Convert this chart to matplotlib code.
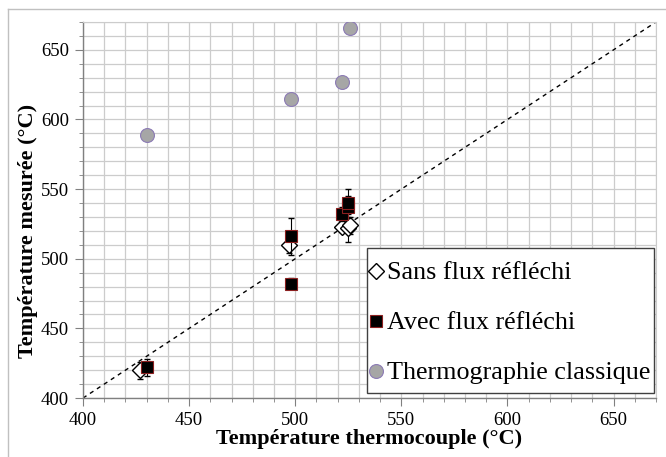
import matplotlib.pyplot as plt
from matplotlib.lines import Line2D
from matplotlib.legend_handler import HandlerLine2D
from matplotlib.ticker import MultipleLocator

# Data
sans_x = [427, 497, 522, 525, 526]
sans_y = [420, 510, 523, 522, 524]
sans_err = [6, 6, 4, 10, 6]

avec_x = [430, 498, 498, 522, 525, 525]
avec_y = [422, 516, 482, 532, 537, 540]
avec_err = [6, 13, 4, 5, 8, 10]

thermo_x = [430, 498, 522, 526]
thermo_y = [589, 615, 627, 666]

labels = ['Sans flux réfléchi', 'Avec flux réfléchi', 'Thermographie classique']


class LoweredHandler(HandlerLine2D):
    # tall handle boxes push the marker up; bring it back to the text centre
    def create_artists(self, legend, orig_handle, xdescent, ydescent, width, height,
                       fontsize, trans):
        arts = super().create_artists(legend, orig_handle, xdescent, ydescent, width,
                                      height, fontsize, trans)
        for a in arts:
            a.set_ydata([v - 4.3 for v in a.get_ydata()])
        return arts


plt.rcParams['font.family'] = ['Liberation Serif', 'DejaVu Serif']

fig = plt.figure(figsize=(6.66, 4.57), dpi=100)
ax = fig.add_axes([0.1246, 0.129, 0.985 - 0.1246, 0.9519 - 0.129])

# outer chart border (left and top only visible)
fig.add_artist(Line2D([8 / 666, 8 / 666], [0, 1 - 9 / 457], color='#c0c0c0', lw=1,
                      transform=fig.transFigure))
fig.add_artist(Line2D([8 / 666, 1], [1 - 9 / 457, 1 - 9 / 457], color='#c0c0c0', lw=1,
                      transform=fig.transFigure))

ax.set_xlim(400, 670)
ax.set_ylim(400, 670)
ax.xaxis.set_major_locator(MultipleLocator(50))
ax.yaxis.set_major_locator(MultipleLocator(50))
ax.xaxis.set_minor_locator(MultipleLocator(10))
ax.yaxis.set_minor_locator(MultipleLocator(10))
ax.grid(which='both', color='#cccccc', lw=0.9)
ax.set_axisbelow(True)

for s in ['top', 'right']:
    ax.spines[s].set_color('#cccccc')
for s in ['left', 'bottom']:
    ax.spines[s].set_color('#808080')
    ax.spines[s].set_linewidth(1.0)

ax.tick_params(which='major', direction='out', length=6, color='#808080', labelsize=13.5, pad=4)
ax.tick_params(which='minor', direction='out', length=3, color='#808080')

# y = x reference line
ax.plot([400, 670], [400, 670], color='black', ls=(0, (3, 3)), lw=1, zorder=2)

ax.errorbar(sans_x, sans_y, yerr=sans_err, fmt='none', ecolor='black', elinewidth=0.8,
            capsize=2, zorder=3)
l1, = ax.plot(sans_x, sans_y, 'D', ms=8, mfc='white', mec='black', mew=1, ls='none',
              label=labels[0], zorder=4)

ax.errorbar(avec_x, avec_y, yerr=avec_err, fmt='none', ecolor='black', elinewidth=0.8,
            capsize=2, zorder=5)
l2, = ax.plot(avec_x, avec_y, 's', ms=8, mfc='black', mec='#8b2020', mew=0.8, ls='none',
              label=labels[1], zorder=6)

l3, = ax.plot(thermo_x, thermo_y, 'o', ms=10, mfc='#a6a6a6', mec='#8c7bb5', mew=0.8, ls='none',
              label=labels[2], zorder=7)

ax.set_xlabel('Température thermocouple (°C)', fontsize=16, fontweight='bold', labelpad=0)
ax.set_ylabel('Température mesurée (°C)', fontsize=16, fontweight='bold')
ax.yaxis.set_label_coords(-0.078, 0.444)

hm = {l1: LoweredHandler(), l2: LoweredHandler(), l3: LoweredHandler()}
leg = ax.legend(handler_map=hm, loc='lower right', bbox_to_anchor=(0.997, 0.013), fontsize=18.8,
                frameon=True, fancybox=False, edgecolor='#404040', framealpha=1,
                handlelength=0.4, handleheight=1.83, handletextpad=0.23, labelspacing=0.48,
                borderpad=0.15, borderaxespad=0)
leg.get_frame().set_linewidth(1.0)

fig.savefig('out.png', dpi=100)
